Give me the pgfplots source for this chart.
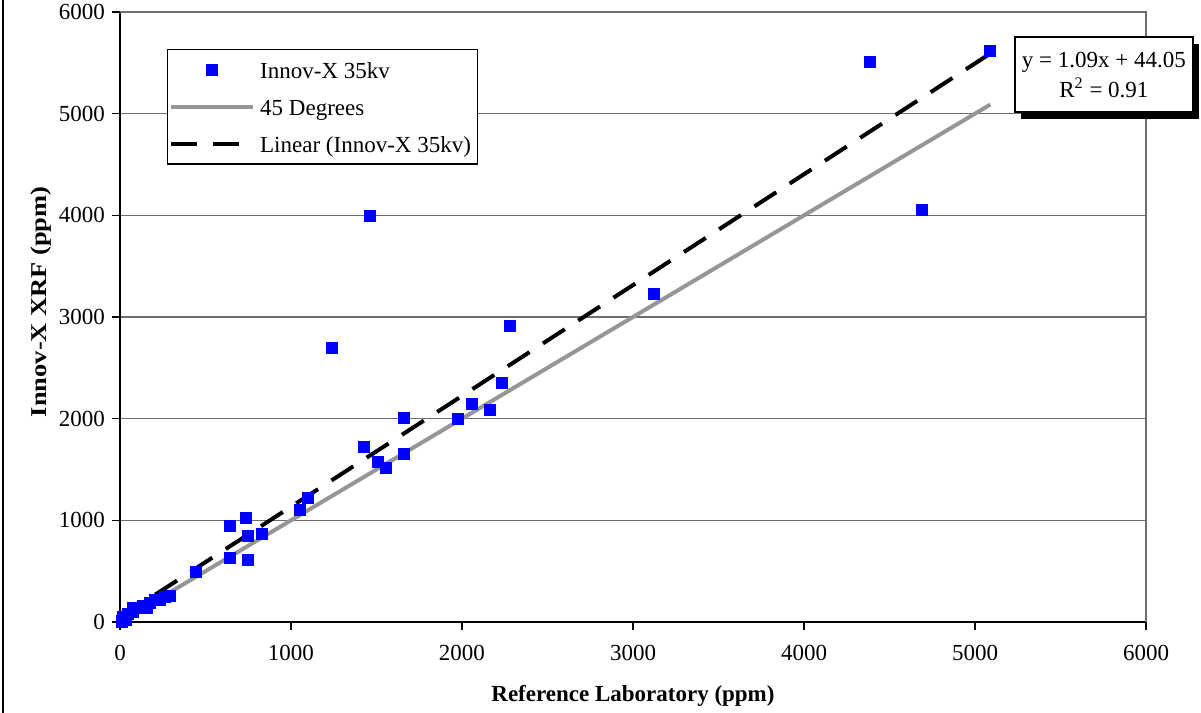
\documentclass[border=0pt]{standalone}
\usepackage{pgfplots}
\pgfplotsset{compat=1.18}
\usepackage{graphicx}
\usepackage{fontspec}
\setmainfont{Liberation Serif}
\usetikzlibrary{shadows}

\definecolor{ptblue}{RGB}{0,0,255}
\definecolor{diaggray}{RGB}{150,150,150}
\definecolor{gridgray}{RGB}{110,110,110}

\newcommand{\tfont}{\fontsize{11.5}{13}\selectfont}

\pgfplotsset{
    markleg/.style={legend image code/.code={\draw[##1] plot coordinates {(20.5pt,0pt)};}},
    lineleg/.style={legend image code/.code={\draw[##1] (0pt,0pt) -- (41pt,0pt);}},
}

\begin{document}
\begin{tikzpicture}
\useasboundingbox (0,0) rectangle (600.5pt,356.5pt);
% left edge of the outer chart frame
\draw[line width=0.6pt] (1.5pt,0) -- (1.5pt,356.5pt);
\begin{axis}[
    at={(60pt,45.5pt)}, anchor=south west,
    scale only axis, width=513pt, height=305pt,
    xmin=0, xmax=6000, ymin=0, ymax=6000,
    xtick={0,1000,...,6000}, ytick={0,1000,...,6000},
    axis x line*=bottom, axis y line*=left,
    axis line style={line width=0.8pt, black},
    tick align=outside, major tick length=4pt,
    tick style={black, line width=0.6pt},
    ymajorgrids, grid style={gridgray, line width=0.7pt},
    /pgf/number format/assume math mode=true,
    /pgf/number format/set thousands separator={},
    ticklabel style={font=\tfont},
    xticklabel style={yshift=-4pt},
    xlabel={\textbf{Reference Laboratory (ppm)}},
    ylabel={\scalebox{1.17}[1]{\textbf{Innov-X XRF (ppm)}}},
    xlabel style={font=\fontsize{11.5}{13}\selectfont, at={(axis description cs:0.5,-0.121)}, anchor=center},
    ylabel style={font=\fontsize{11.3}{13}\selectfont, at={(axis description cs:-0.077,0.525)}, anchor=center},
    clip=false,
    legend cell align=left,
    legend style={
        at={(0.0458,0.939)}, anchor=north west,
        font=\tfont, draw=black, line width=0.6pt,
        inner sep=0.8pt, row sep=0pt,
        nodes={inner xsep=2.5pt, inner ysep=3.5pt, text height=10pt, text depth=1.5pt},
    },
]

\addplot[only marks, mark=square*, mark size=2.8pt,
    mark options={fill=ptblue, draw=ptblue}, markleg]
coordinates {
    (10,5) (18,49) (35,20) (47,79) (76,98) (76,138) (105,138) (135,157)
    (158,138) (175,187) (205,216) (234,216) (263,246) (292,256)
    (444,492) (643,629) (749,610) (749,846) (830,866) (643,944) (737,1023)
    (1053,1102) (1099,1220) (1240,2695) (1462,3993) (1427,1721) (1509,1574)
    (1556,1515) (1661,1652) (1661,2006) (1977,1997) (2058,2144) (2164,2085)
    (2234,2351) (2281,2911) (3123,3226) (4386,5508) (4690,4052) (5088,5616)
};
\addlegendentry{Innov-X 35kv}

\addplot[diaggray, line width=2pt, lineleg]
coordinates {(0,0) (5090,5090)};
\addlegendentry{45 Degrees}

% trendline y = 1.09x + 44.05
\addplot[black, line width=2pt, dash pattern=on 13pt off 8pt, lineleg]
coordinates {(0,44.05) (5088,5590)};
\addlegendentry{Linear (Innov-X 35kv)}

% plot area border (top and right)
\draw[gridgray, line width=0.7pt] (rel axis cs:0,1) -- (rel axis cs:1,1) -- (rel axis cs:1,0);

\node[draw=black, line width=0.6pt, fill=white, align=center,
      minimum width=89pt, minimum height=37.5pt, inner sep=0pt,
      font=\fontsize{11.5}{15}\selectfont,
      drop shadow={shadow xshift=3pt, shadow yshift=-3.5pt, fill=black, opacity=1}]
  at (axis cs:5754,5385) {y = 1.09x + 44.05\\R\textsuperscript{2} = 0.91};
\end{axis}
\end{tikzpicture}
\end{document}
